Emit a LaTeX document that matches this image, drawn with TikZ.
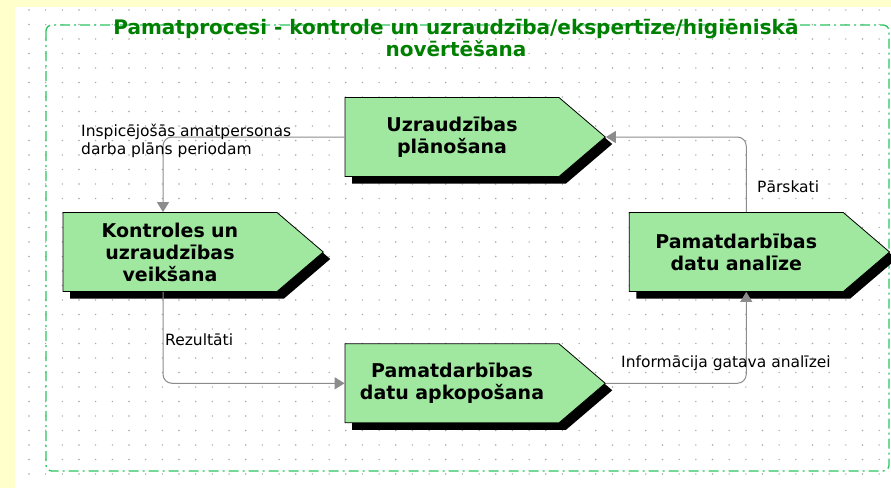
\documentclass[tikz,border=0pt]{standalone}
\usepackage{fontspec}
\setmainfont{DejaVu Sans}
\usetikzlibrary{positioning, shapes.symbols, shadows, arrows.meta}
\definecolor{boxgreen}{HTML}{A0E8A0}
\definecolor{framegreen}{HTML}{2EC45E}
\definecolor{titlegreen}{HTML}{008000}
\definecolor{paper}{HTML}{FFFFCC}
\definecolor{linegray}{HTML}{8C8C8C}
\definecolor{dotgray}{HTML}{A8A8A8}

\begin{document}
\begin{tikzpicture}[x=1pt, y=-1pt,
    process/.style={signal, signal to=east, signal pointer angle=81, draw=black, line width=0.8pt, fill=boxgreen, text width=194pt, inner xsep=10pt, inner ysep=0pt, minimum height=79pt, align=center, font=\bfseries\fontsize{19}{22}\selectfont, drop shadow={shadow xshift=7pt, shadow yshift=-7pt, fill=black, opacity=1}},
    flow/.style={draw=linegray, line width=1pt, rounded corners=9pt, -{Triangle[length=10pt, width=12pt]}},
    flowlabel/.style={anchor=west, inner sep=0pt, align=left, font=\fontsize{15.5}{18.5}\selectfont},
    heading/.style={inner sep=0pt, align=center, text=titlegreen, font=\bfseries\fontsize{20}{22}\selectfont},
    groupframe/.style={draw=framegreen, line width=1.3pt, rounded corners=6pt, dash pattern=on 10pt off 4pt on 2pt off 4pt}
]
\useasboundingbox (0,0) rectangle (891,488);

% background and dot grid
\fill[paper] (0,0) rectangle (891,488);
\fill[white] (15,7) rectangle (891,488);
\foreach \i in {0,...,51}
  \foreach \j in {0,...,32}
    \fill[dotgray] (29+16.67*\i, 10+14.5*\j) circle (0.8);

\draw[groupframe] (46,25) rectangle (889,471);
\node[heading] (title) at (456,38) {Pamatprocesi - kontrole un uzraudzība/ekspertīze/higiēniskā\\novērtēšana};

\node[process] (plan) at (452,137) {Uzraudzības\\plānošana};
\node[process] (exec) at (170,252) {Kontroles un\\uzraudzības\\veikšana};
\node[process, below=166.5pt of plan] (collect) {Pamatdarbības\\datu apkopošana};
\node[process, right=305pt of exec] (analysis) {Pamatdarbības\\datu analīze};

\draw[flow] (plan.west) -| ([xshift=-7pt]exec.north);
\draw[flow] ([xshift=-7pt]exec.south) |- (collect.west);
\draw[flow] (collect.east) -| ([xshift=10pt]analysis.south);
\draw[flow] ([xshift=10pt]analysis.north) |- (plan.east);

\node[flowlabel] (lplan) at (81,141) {Inspicējošās amatpersonas\\darba plāns periodam};
\node[flowlabel] (lres) at (165,340) {Rezultāti};
\node[flowlabel] (linfo) at (621,363) {Informācija gatava analīzei};
\node[flowlabel] (lrep) at (757,187) {Pārskati};

\end{tikzpicture}
\end{document}
